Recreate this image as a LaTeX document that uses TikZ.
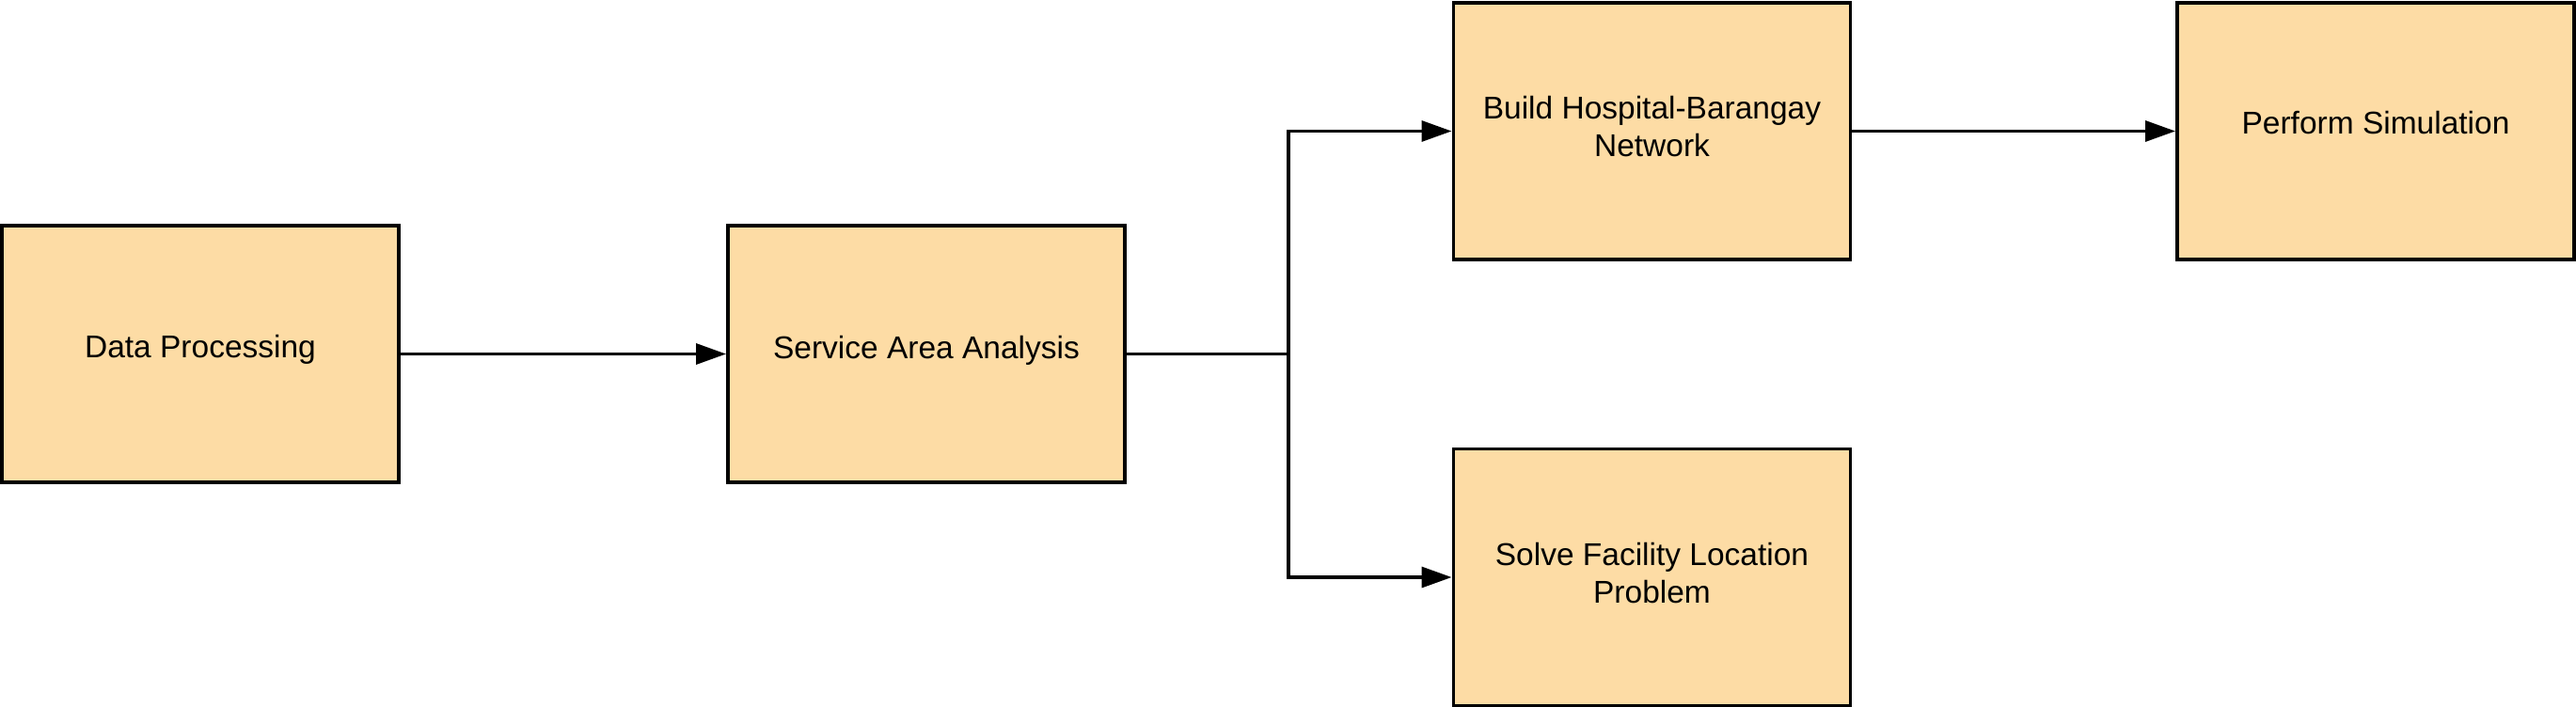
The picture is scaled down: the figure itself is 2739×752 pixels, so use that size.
\documentclass[tikz,border=0pt]{standalone}
\usepackage{fontspec}
\setmainfont{Liberation Sans}
\usetikzlibrary{arrows.meta}
\definecolor{boxfill}{HTML}{FDDCA5}
\newcommand{\boxlbl}[2]{\raisebox{#1}[0pt][0pt]{\begin{tabular}[t]{@{}c@{}}#2\end{tabular}}}
\begin{document}
\begin{tikzpicture}[x=1pt,y=-1pt,
  procbox/.style={draw=black, line width=3.3pt, fill=boxfill, rectangle,
    minimum width=422pt, minimum height=273pt, inner sep=0pt, outer sep=0pt,
    font=\fontsize{33.5}{40}\selectfont},
  conn/.style={draw=black, line width=3.3pt,
    -{Triangle[length=32pt,width=22pt]}, shorten >=2pt}]
\useasboundingbox (0,0) rectangle (2739,752);
\node[procbox] (dp)  at (213,376.5)    {\boxlbl{-4pt}{Data Processing}};
\node[procbox] (saa) at (985,376.5)    {\boxlbl{-4.5pt}{Service Area Analysis}};
\node[procbox] (bhb) at (1756.5,139.5) {\boxlbl{13pt}{Build Hospital-Barangay\\Network}};
\node[procbox] (ps)  at (2526,139.5)   {\boxlbl{-2.5pt}{Perform Simulation}};
\node[procbox] (sfl) at (1756.5,614)   {\boxlbl{12.5pt}{Solve Facility Location\\Problem}};
\coordinate (j) at (1370,376.5);
\draw[conn] (dp.east) -- (saa.west);
\draw[line width=3.3pt] (saa.east) -- (j);
\draw[conn] (j) |- (bhb.west);
\draw[conn] (j) |- (sfl.west);
\draw[conn] (bhb.east) -- (ps.west);
\end{tikzpicture}
\end{document}
